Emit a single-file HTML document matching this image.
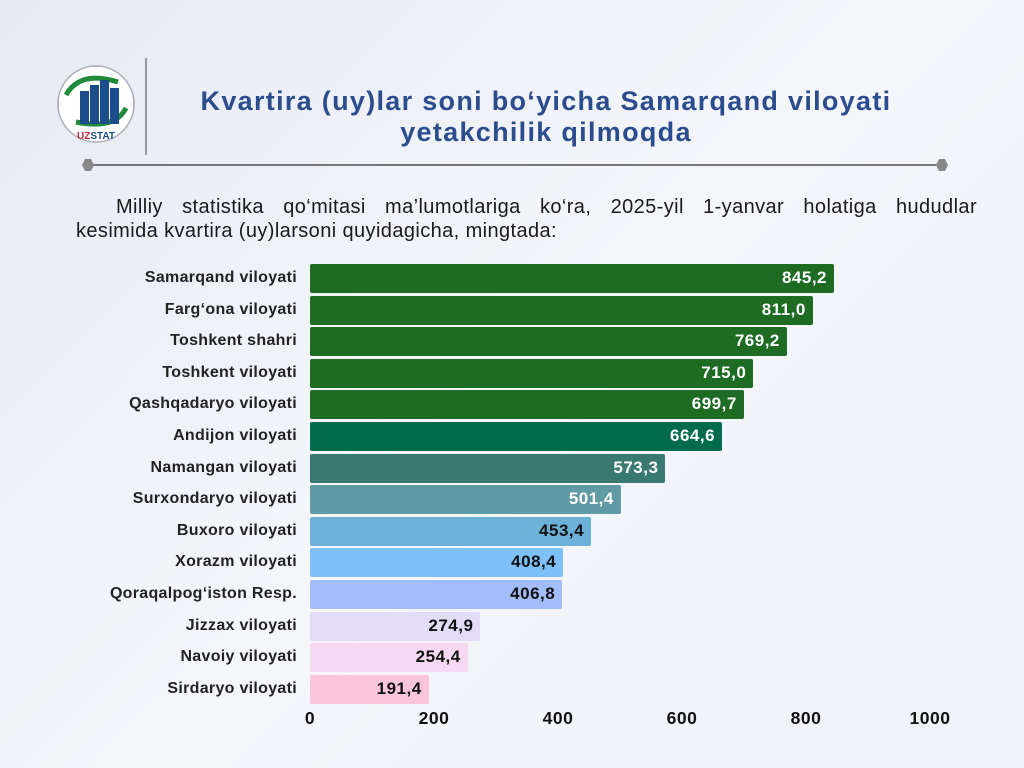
<!DOCTYPE html>
<html><head><meta charset="utf-8"><style>
body{margin:0;width:1024px;height:768px;overflow:hidden;background:linear-gradient(135deg,#e6eaf2 0%,#f4f6fa 50%,#eef1f7 100%);font-family:"Liberation Sans",sans-serif;position:relative}
.t{position:absolute;left:130px;width:832px;text-align:center;color:#2b4d8e;font-weight:bold;font-size:27px;letter-spacing:1.3px;line-height:31px;top:86px}
.p1{position:absolute;left:76px;width:901px;top:195px;font-size:20px;line-height:24px;color:#1a1a1a;text-indent:40px;text-align:justify;text-align-last:justify;white-space:nowrap;letter-spacing:0.4px}
.p2{position:absolute;left:76px;top:219px;font-size:20px;line-height:24px;color:#1a1a1a;white-space:nowrap;letter-spacing:0.4px}
.lab{position:absolute;right:727px;font-size:16px;font-weight:bold;color:#222;white-space:nowrap;letter-spacing:0.3px}
.bar{position:absolute;left:310px;height:29px;border-radius:2px}
.v{position:absolute;font-size:17px;font-weight:bold;text-align:right;letter-spacing:0.5px}
.ax{position:absolute;top:708px;font-size:17.5px;font-weight:bold;color:#111;transform:translateX(-50%);letter-spacing:0.5px}
</style></head><body>
<svg width="1024" height="180" style="position:absolute;left:0;top:0">
<line x1="146" y1="58" x2="146" y2="155" stroke="#999" stroke-width="2"/>
<line x1="88" y1="165" x2="942" y2="165" stroke="#777" stroke-width="2"/>
<polygon points="82,165 85,159 91,159 94,165 91,171 85,171" fill="#888"/>
<polygon points="936,165 939,159 945,159 948,165 945,171 939,171" fill="#888"/>
<circle cx="96" cy="104" r="38" fill="#fff" stroke="#aab" stroke-width="1.5"/>
<path d="M66,95 Q80,70 118,82" stroke="#1f8a3a" stroke-width="5" fill="none"/>
<path d="M126,108 Q115,130 76,122" stroke="#1f8a3a" stroke-width="5" fill="none"/>
<rect x="80" y="91" width="9" height="33" fill="#1c4d8a"/><rect x="90" y="85" width="9" height="39" fill="#1c4d8a"/><rect x="100" y="80" width="9" height="44" fill="#1c4d8a"/><rect x="110" y="88" width="9" height="36" fill="#1c4d8a"/>
<text x="96" y="139" text-anchor="middle" font-size="10" font-weight="bold" fill="#1c4d8a" font-family="Liberation Sans"><tspan fill="#c0283a">UZ</tspan>STAT</text>
</svg>
<div class="t">Kvartira (uy)lar soni bo‘yicha Samarqand viloyati<br>yetakchilik qilmoqda</div>
<div class="p1">Milliy statistika qo‘mitasi ma’lumotlariga ko‘ra, 2025-yil 1-yanvar holatiga hududlar</div>
<div class="p2">kesimida kvartira (uy)larsoni quyidagicha, mingtada:</div>
<div id="c"></div>
<div class="ax" style="left:310px">0</div><div class="ax" style="left:434px">200</div><div class="ax" style="left:558px">400</div><div class="ax" style="left:682px">600</div><div class="ax" style="left:806px">800</div><div class="ax" style="left:930px">1000</div>
<script>
var d=[["Samarqand viloyati",845.2,"#1e6b24","#fff"],["Farg‘ona viloyati",811.0,"#1e6b24","#fff"],["Toshkent shahri",769.2,"#1e6b24","#fff"],["Toshkent viloyati",715.0,"#1e6b24","#fff"],["Qashqadaryo viloyati",699.7,"#1e6b24","#fff"],["Andijon viloyati",664.6,"#006b4b","#fff"],["Namangan viloyati",573.3,"#3a7972","#fff"],["Surxondaryo viloyati",501.4,"#5f9aa5","#fff"],["Buxoro viloyati",453.4,"#6cb2d8","#111"],["Xorazm viloyati",408.4,"#7ec0fa","#111"],["Qoraqalpog‘iston Resp.",406.8,"#a2bdfa","#111"],["Jizzax viloyati",274.9,"#e2dcf8","#111"],["Navoiy viloyati",254.4,"#f8d9f3","#111"],["Sirdaryo viloyati",191.4,"#fbc5dc","#111"]];
var h="";d.forEach(function(r,i){var y=264+i*31.6,w=r[1]*0.62;
h+='<div class="lab" style="top:'+(y+5)+'px">'+r[0]+'</div><div class="bar" style="top:'+y+'px;width:'+w+'px;background:'+r[2]+'"></div><div class="v" style="top:'+(y+4)+'px;left:'+(310+w-85)+'px;width:78px;color:'+r[3]+'">'+r[1].toFixed(1).replace(".",",")+'</div>';});
document.getElementById("c").innerHTML=h;
</script>
</body></html>
